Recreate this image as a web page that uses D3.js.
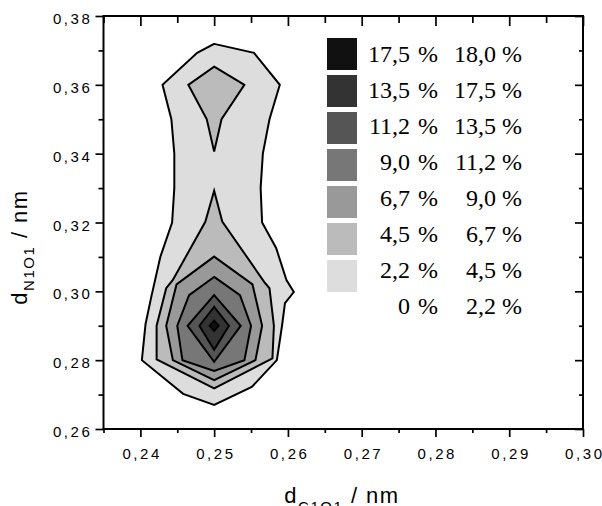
<!DOCTYPE html>
<html><head><meta charset="utf-8">
<script src="https://cdn.jsdelivr.net/npm/d3@7"></script>
<style>body{margin:0;background:#fff}</style>
</head><body><svg id="c" width="602" height="506"></svg>
<script>
// ---- data ----
const xTicks = [0.24, 0.25, 0.26, 0.27, 0.28, 0.29, 0.30];
const xMinor = [0.235, 0.245, 0.255, 0.265, 0.275, 0.285, 0.295];
const yTicks = [0.26, 0.28, 0.30, 0.32, 0.34, 0.36, 0.38];
const yMinor = [0.27, 0.29, 0.31, 0.33, 0.35, 0.37];

const legendLow  = ["17,5", "13,5", "11,2", "9,0", "6,7", "4,5", "2,2", "0"];
const legendHigh = ["18,0", "17,5", "13,5", "11,2", "9,0", "6,7", "4,5", "2,2"];
const legendFill = ["#111111", "#333333", "#555555", "#777777", "#999999", "#bbbbbb", "#dddddd", null];

// contour polygons (x = dC1O1 / nm, y = dN1O1 / nm)
const contour22 = [[0.2500,0.3719],[0.2554,0.3693],[0.2589,0.3600],[0.2575,0.3500],[0.2566,0.3400],[0.2563,0.3300],[0.2565,0.3200],[0.2584,0.3126],[0.2598,0.3033],[0.2608,0.2998],[0.2596,0.2966],[0.2592,0.2900],[0.2585,0.2800],[0.2551,0.2722],[0.2500,0.2670],[0.2458,0.2702],[0.2402,0.2800],[0.2407,0.2905],[0.2415,0.2986],[0.2427,0.3100],[0.2443,0.3200],[0.2446,0.3300],[0.2446,0.3400],[0.2442,0.3500],[0.2430,0.3600],[0.2477,0.3693]];
const contour45top = [[0.2500,0.3653],[0.2541,0.3600],[0.2510,0.3500],[0.2500,0.3406],[0.2490,0.3500],[0.2465,0.3600]];
const contour45 = [[0.2500,0.3292],[0.2511,0.3203],[0.2568,0.3027],[0.2575,0.3009],[0.2581,0.2900],[0.2579,0.2805],[0.2500,0.2718],[0.2422,0.2802],[0.2422,0.2900],[0.2435,0.3009],[0.2444,0.3033],[0.2488,0.3202]];
const contour67 = [[0.2500,0.3101],[0.2552,0.3020],[0.2565,0.2900],[0.2556,0.2800],[0.2500,0.2742],[0.2444,0.2800],[0.2435,0.2900],[0.2449,0.3020]];
const contour90 = [[0.2500,0.3042],[0.2535,0.2989],[0.2550,0.2900],[0.2541,0.2800],[0.2500,0.2769],[0.2457,0.2800],[0.2450,0.2900],[0.2466,0.2989]];
const contour112 = [[0.2500,0.2989],[0.2536,0.2900],[0.2500,0.2795],[0.2464,0.2900]];
const contour135 = [[0.2500,0.2955],[0.2520,0.2900],[0.2500,0.2830],[0.2480,0.2900]];
const contour175 = [[0.2500,0.2915],[0.2506,0.2900],[0.2500,0.2885],[0.2494,0.2900]];

const contours = [
  {pts: contour22, fill: legendFill[6]},
  {pts: contour45top, fill: legendFill[5]},
  {pts: contour45, fill: legendFill[5]},
  {pts: contour67, fill: legendFill[4]},
  {pts: contour90, fill: legendFill[3]},
  {pts: contour112, fill: legendFill[2]},
  {pts: contour135, fill: legendFill[1]},
  {pts: contour175, fill: legendFill[0]}
];

// ---- drawing ----
const svg = d3.select("#c");
const L = 103.5, R = 583, T = 16, B = 429;
const x = d3.scaleLinear().domain([0.235, 0.30]).range([L, R]);
const y = d3.scaleLinear().domain([0.26, 0.38]).range([B, T]);

const line = d3.line().x(d => x(d[0])).y(d => y(d[1])).curve(d3.curveLinearClosed);
svg.append("g").selectAll("path").data(contours).join("path")
  .attr("d", d => line(d.pts))
  .attr("fill", d => d.fill)
  .attr("stroke", "#000")
  .attr("stroke-width", 2)
  .attr("stroke-linejoin", "miter");

const fmt = v => d3.format(".2f")(v).replace(".", ",");
const tickFont = "'Liberation Sans', Arial, sans-serif";

function styleAxis(g) {
  g.select(".domain").remove();
  g.selectAll("line").attr("stroke", "#000").attr("stroke-width", 1.7);
  g.selectAll("text").attr("font-family", tickFont).attr("font-size", 15)
    .attr("letter-spacing", "2.6px").attr("fill", "#000");
}

// bottom
svg.append("g").attr("transform", `translate(0,${B})`)
  .call(d3.axisBottom(x).tickValues(xTicks).tickSize(8).tickPadding(11).tickFormat(fmt))
  .call(styleAxis)
  .call(g => g.selectAll("text").attr("dx", "1.3px"));
svg.append("g").attr("transform", `translate(0,${B})`)
  .call(d3.axisBottom(x).tickValues(xMinor).tickSize(4).tickFormat(""))
  .call(styleAxis);
// top
svg.append("g").attr("transform", `translate(0,${T})`)
  .call(d3.axisTop(x).tickValues(xTicks).tickSize(-10).tickFormat(""))
  .call(styleAxis);
svg.append("g").attr("transform", `translate(0,${T})`)
  .call(d3.axisTop(x).tickValues(xMinor).tickSize(-7).tickFormat(""))
  .call(styleAxis);
// left
svg.append("g").attr("transform", `translate(${L},0)`)
  .call(d3.axisLeft(y).tickValues(yTicks).tickSize(8).tickPadding(3).tickFormat(fmt))
  .call(styleAxis)
  .call(g => g.selectAll("text").attr("dy", "0.5em"));
svg.append("g").attr("transform", `translate(${L},0)`)
  .call(d3.axisLeft(y).tickValues(yMinor).tickSize(5).tickFormat(""))
  .call(styleAxis);
// right
svg.append("g").attr("transform", `translate(${R},0)`)
  .call(d3.axisRight(y).tickValues(yTicks).tickSize(-8).tickFormat(""))
  .call(styleAxis);
svg.append("g").attr("transform", `translate(${R},0)`)
  .call(d3.axisRight(y).tickValues(yMinor).tickSize(-4).tickFormat(""))
  .call(styleAxis);

// frame
svg.append("rect").attr("x", L).attr("y", T).attr("width", R - L).attr("height", B - T)
  .attr("fill", "none").attr("stroke", "#000").attr("stroke-width", 2);

// axis titles
const titleFont = "'Liberation Sans', Arial, sans-serif";
const xt = svg.append("text").attr("x", 342).attr("y", 503)
  .attr("text-anchor", "middle").attr("font-family", titleFont)
  .attr("font-size", 22).attr("letter-spacing", "1.5px").attr("fill", "#000");
xt.append("tspan").text("d");
xt.append("tspan").attr("font-size", 15).attr("dy", 9).text("C1O1");
xt.append("tspan").attr("dy", -9).text(" / nm");

const yt = svg.append("text").attr("transform", "translate(27,247) rotate(-90)")
  .attr("text-anchor", "middle").attr("font-family", titleFont)
  .attr("font-size", 22).attr("letter-spacing", "1.5px").attr("fill", "#000");
yt.append("tspan").text("d");
yt.append("tspan").attr("font-size", 15).attr("dy", 7).text("N1O1");
yt.append("tspan").attr("dy", -7).text(" / nm");

// legend
const serif = "'Liberation Serif', 'Times New Roman', serif";
const lg = svg.append("g");
legendLow.forEach((lo, i) => {
  if (legendFill[i]) {
    lg.append("rect").attr("x", 327).attr("y", 38 + i * 37)
      .attr("width", 30).attr("height", 32).attr("fill", legendFill[i]);
  }
  const by = 62 + i * 36;
  lg.append("text").attr("x", 410).attr("y", by).attr("text-anchor", "end")
    .attr("font-family", serif).attr("font-size", 24).attr("fill", "#000").text(lo);
  lg.append("text").attr("x", 418).attr("y", by).attr("text-anchor", "start")
    .attr("font-family", serif).attr("font-size", 24).attr("fill", "#000").text("%");
  lg.append("text").attr("x", 522).attr("y", by).attr("text-anchor", "end")
    .attr("font-family", serif).attr("font-size", 24).attr("fill", "#000").text(legendHigh[i] + " %");
});
</script>
</body></html>
